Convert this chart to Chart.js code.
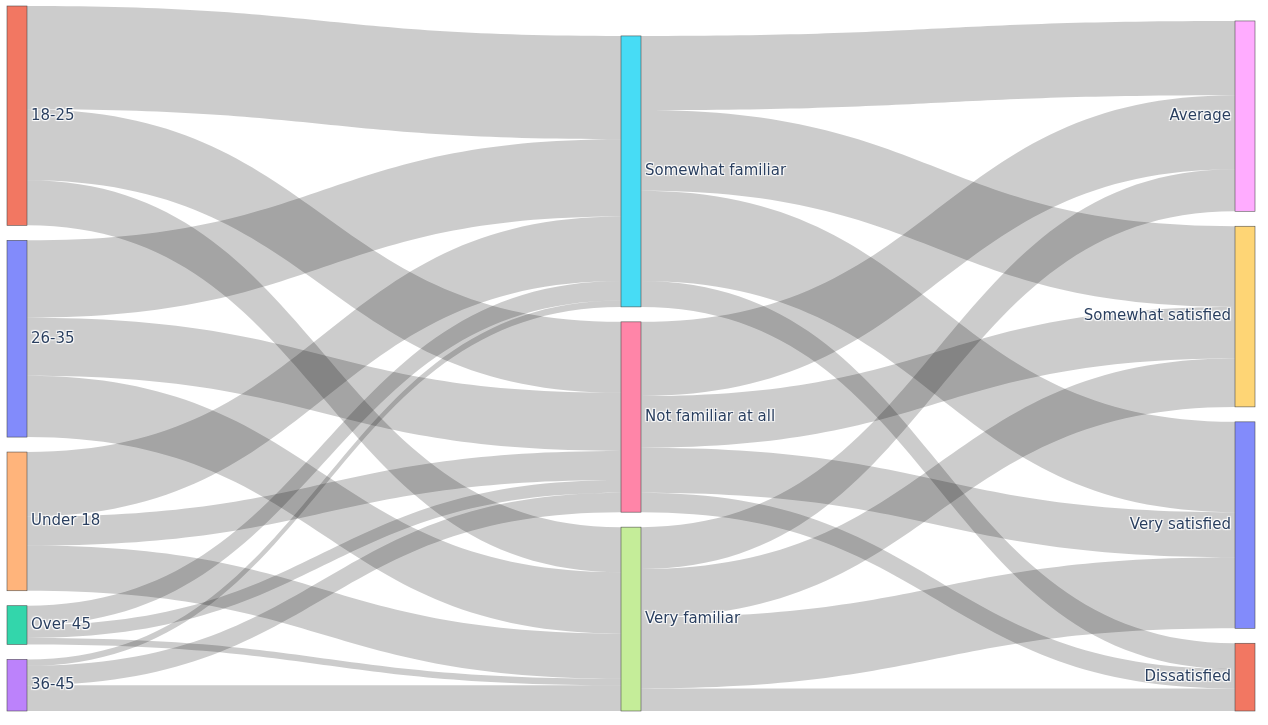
<!DOCTYPE html>
<html>
<head>
<meta charset="utf-8">
<script src="https://cdn.jsdelivr.net/npm/chart.js@4.4.1/dist/chart.umd.min.js"></script>
<style>
  html, body { margin: 0; padding: 0; background: #fff; }
  #wrap { width: 1268px; height: 725px; }
</style>
</head>
<body>
<div id="wrap"><canvas id="sankey"></canvas></div>
<script>
// nodes of each column, top to bottom
const ageGroups = ["18-25", "26-35", "Under 18", "Over 45", "36-45"];
const familiarity = ["Somewhat familiar", "Not familiar at all", "Very familiar"];
const satisfaction = ["Average", "Somewhat satisfied", "Very satisfied", "Dissatisfied"];

// age group -> [somewhat familiar, not familiar at all, very familiar]
const ageToFamiliarity = [
  [32, 22, 14],
  [24, 18, 19],
  [20, 9, 14],
  [6, 4, 2],
  [2, 6, 8]
];
// familiarity -> [average, somewhat satisfied, very satisfied, dissatisfied]
const familiarityToSatisfaction = [
  [23, 25, 28, 8],
  [23, 16, 14, 6],
  [13, 15, 22, 7]
];

const ageColors = ["#f27762", "#828bfb", "#ffb47b", "#33d6ab", "#bc82fb"];
const familiarityColors = ["#47dcf5", "#ff85a8", "#c5ed99"];
const satisfactionColors = ["#ffacff", "#fed575", "#828bfb", "#f27762"];

const nodeGap = 4.64;   // space between nodes, in value units (~15px)
const nodeWidth = 20;

const sum = arr => arr.reduce((a, b) => a + b, 0);
const columns = [ageGroups, familiarity, satisfaction];
const colors = [ageColors, familiarityColors, satisfactionColors];
const flows = [ageToFamiliarity, familiarityToSatisfaction];
const sizes = [
  ageToFamiliarity.map(r => sum(r)),
  familiarity.map((_, j) => sum(ageToFamiliarity.map(r => r[j]))),
  satisfaction.map((_, k) => sum(familiarityToSatisfaction.map(r => r[k])))
];
const yMax = Math.max(...sizes.map(s => sum(s) + (s.length - 1) * nodeGap));

const sankeyPlugin = {
  id: "sankey",
  afterDatasetsDraw(chart) {
    const ctx = chart.ctx;
    const xs = chart.scales.x, ys = chart.scales.y;
    const py = v => ys.getPixelForValue(v);

    // stack every column from the bottom
    const nodes = columns.map((names, c) => {
      const out = [];
      let v = 0;
      for (let i = names.length - 1; i >= 0; i--) {
        out[i] = { lo: v, hi: v + sizes[c][i] };
        v += sizes[c][i] + nodeGap;
      }
      return out;
    });

    ctx.save();
    // links
    ctx.fillStyle = "rgba(0,0,0,0.2)";
    flows.forEach((m, c) => {
      const outPos = nodes[c].map(n => n.hi);
      const inPos = nodes[c + 1].map(n => n.hi);
      const x0 = xs.getPixelForValue(c) + nodeWidth / 2;
      const x1 = xs.getPixelForValue(c + 1) - nodeWidth / 2;
      const xm = (x0 + x1) / 2;
      m.forEach((row, i) => {
        row.forEach((v, j) => {
          if (!v) return;
          const s0 = py(outPos[i]), s1 = py(outPos[i] - v);
          const t0 = py(inPos[j]), t1 = py(inPos[j] - v);
          outPos[i] -= v;
          inPos[j] -= v;
          ctx.beginPath();
          ctx.moveTo(x0, s0);
          ctx.bezierCurveTo(xm, s0, xm, t0, x1, t0);
          ctx.lineTo(x1, t1);
          ctx.bezierCurveTo(xm, t1, xm, s1, x0, s1);
          ctx.closePath();
          ctx.fill();
        });
      });
    });

    // nodes
    nodes.forEach((col, c) => {
      const xc = xs.getPixelForValue(c);
      col.forEach((n, i) => {
        const top = py(n.hi), bot = py(n.lo);
        ctx.fillStyle = colors[c][i];
        ctx.fillRect(xc - nodeWidth / 2, top, nodeWidth, bot - top);
        ctx.strokeStyle = "rgba(68,68,68,0.9)";
        ctx.lineWidth = 0.6;
        ctx.strokeRect(xc - nodeWidth / 2, top, nodeWidth, bot - top);
      });
    });

    // labels
    ctx.font = "15px 'DejaVu Sans'";
    ctx.textBaseline = "middle";
    nodes.forEach((col, c) => {
      const xc = xs.getPixelForValue(c);
      const last = c === columns.length - 1;
      ctx.textAlign = last ? "right" : "left";
      const tx = last ? xc - nodeWidth / 2 - 4 : xc + nodeWidth / 2 + 4;
      col.forEach((n, i) => {
        const ty = (py(n.hi) + py(n.lo)) / 2;
        const label = columns[c][i];
        ctx.fillStyle = "#fff";
        ctx.shadowColor = "#fff";
        ctx.shadowBlur = 1;
        [[1, 1], [1, -1], [-1, 1], [-1, -1]].forEach(([dx, dy]) => {
          ctx.shadowOffsetX = dx;
          ctx.shadowOffsetY = dy;
          ctx.fillText(label, tx, ty);
        });
        ctx.shadowColor = "transparent";
        ctx.shadowBlur = 0;
        ctx.shadowOffsetX = 0;
        ctx.shadowOffsetY = 0;
        ctx.fillStyle = "#2a3f5f";
        ctx.fillText(label, tx, ty);
      });
    });
    ctx.restore();
  }
};

new Chart("sankey", {
  type: "scatter",
  data: { datasets: [] },
  options: {
    responsive: true,
    maintainAspectRatio: false,
    devicePixelRatio: 1,
    animation: false,
    layout: { padding: { left: 17, right: 23, top: 6, bottom: 14 } },
    scales: {
      x: { type: "linear", min: 0, max: 2, display: false },
      y: { type: "linear", min: 0, max: yMax, display: false }
    },
    plugins: {
      legend: { display: false },
      tooltip: { enabled: false }
    }
  },
  plugins: [sankeyPlugin]
});
</script>
</body>
</html>
